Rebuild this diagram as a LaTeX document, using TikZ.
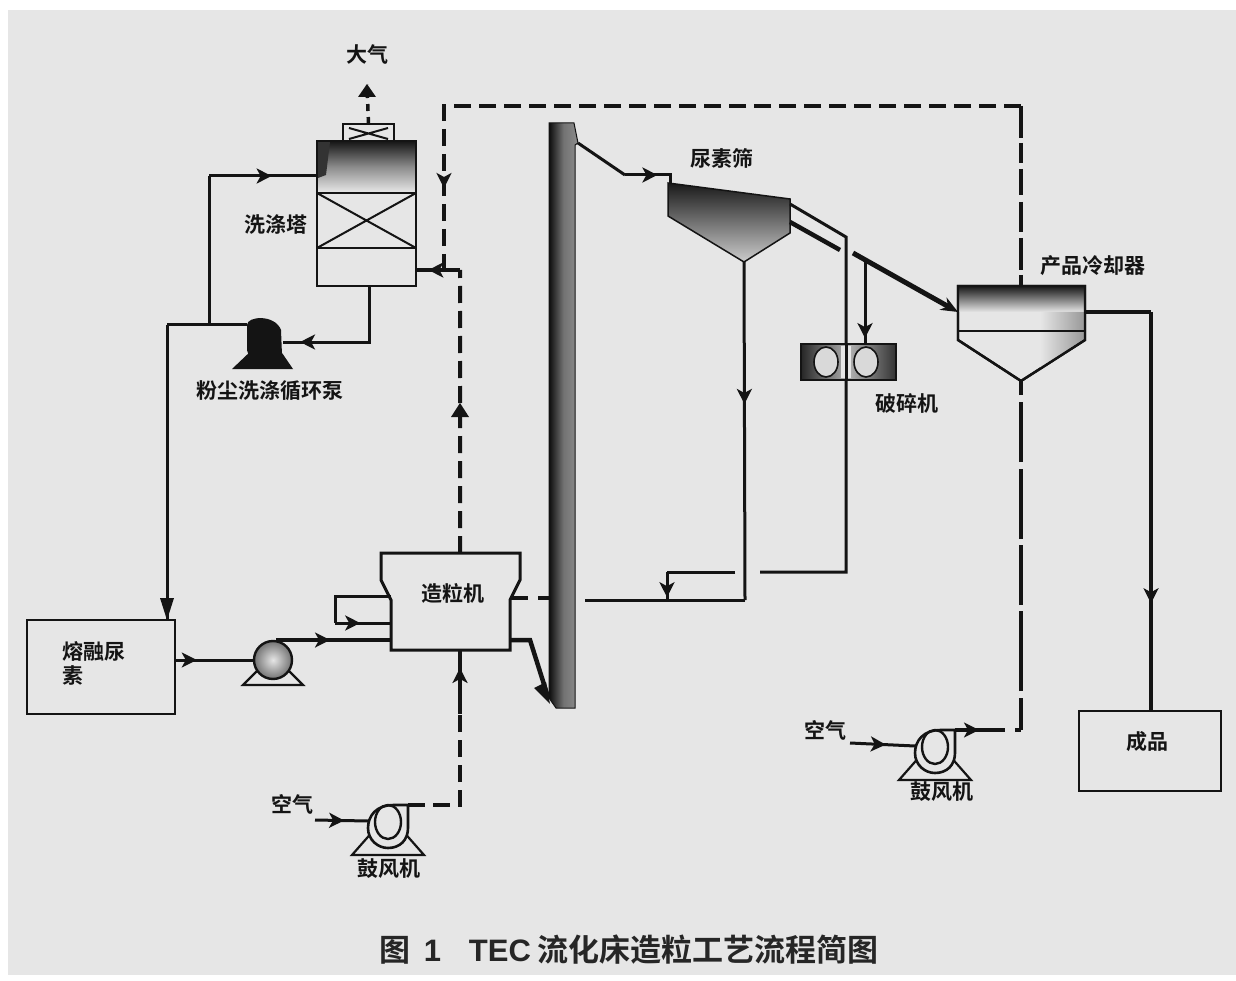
\documentclass[tikz,border=0pt]{standalone}
\usepackage{fontspec}
\setmainfont{Liberation Sans}
\newfontfamily\cjk{Noto Sans CJK SC}[BoldFont={Noto Sans CJK SC Bold}]
\usetikzlibrary{arrows.meta,decorations.markings,calc,shapes.geometric}
\definecolor{bgpaper}{HTML}{E6E6E6}
\definecolor{ink}{HTML}{141414}
\tikzset{
  pipe/.style={draw=ink,line width=3pt,line join=miter},
  thick pipe/.style={draw=ink,line width=4.5pt,line join=miter},
  gas/.style={draw=ink,line width=4pt,dash pattern=on 17pt off 8pt},
  midarrow/.style={postaction={decorate},decoration={markings,mark=at position #1 with {\arrow{Stealth[length=15pt,width=15pt,inset=4pt]}}}},
  vessel/.style={draw=ink,line width=2.6pt,fill=bgpaper,inner sep=0pt,outer sep=0pt,rectangle},
  lab/.style={font=\cjk\bfseries\fontsize{21}{24}\selectfont,text=ink,inner sep=0pt},
  blower/.pic={
    \fill[bgpaper,draw=ink,line width=2.2pt] (-36,33) -- (-14,8) -- (14,8) -- (36,33) -- cycle;
    \path[fill=bgpaper,draw=ink,line width=2.6pt] (20,-17) -- (6,-17) .. controls (-12,-17) and (-20,-6) .. (-20,6) .. controls (-20,18) and (-10,26) .. (0,26) .. controls (12,26) and (20,18) .. (20,6) -- cycle;
    \draw[ink,line width=2.4pt] (0,0) ellipse (13pt and 17pt);
    \coordinate (-in) at (-20,-1);
    \coordinate (-out) at (20,-17);
  },
}
\begin{document}
\begin{tikzpicture}[x=1pt,y=-1pt]
\useasboundingbox (0,0) rectangle (1236,981);
\fill[white] (0,0) rectangle (1236,981);
\fill[bgpaper] (8,10) rectangle (1236,975);

% ---- named junctions
\coordinate (airtop) at (367,85);
\coordinate (tk1) at (444,106);
\coordinate (tk2) at (1021,106);
\coordinate (jn) at (444,270);
\coordinate (gbend) at (460,270);
\coordinate (upA) at (209,325);
\coordinate (upB) at (209,176);
\coordinate (bendL) at (167,325);
\coordinate (meltin) at (167,620);
\coordinate (towerin) at (416,270);
\coordinate (pumpbot) at (369,342);

% ---- scrubber tower
\node[vessel,minimum width=51pt,minimum height=17pt,anchor=north west] (cap) at (343,124) {};
\draw[ink,line width=2pt] (349,128) -- (388,139) (349,139) -- (388,128);
\node[vessel,minimum width=99pt,minimum height=145pt,anchor=north west] (tower) at (317,141) {};
\shade[top color=black!90,bottom color=bgpaper,middle color=black!45] (318,142) rectangle (415,192);
\fill[black!80] (318,142) -- (330,142) -- (326,175) -- (318,178) -- cycle;
\draw[ink,line width=2.8pt] (317,193) -- (416,193) (317,248) -- (416,248);
\draw[ink,line width=2pt] (317,193) -- (416,248) (416,193) -- (317,248);
\draw[vessel,fill=none] (317,141) rectangle (416,286);
\node[lab] (lbltower) at (276,225) {洗涤塔};
\node[lab] (lblair) at (367,54) {大气};
\draw[gas,dash pattern=on 7pt off 6pt,line width=3.5pt] (cap.north) -- (airtop);
\fill[ink] (367,84) -- (358,97) -- (376,97) -- cycle;

% ---- black pump
\coordinate (pk) at (265,343);
\fill[ink] (232,369) -- (252,350) -- (280,350) -- (293,369) -- cycle;
\fill[ink] (247,325) .. controls (247,316) and (275,314) .. (281,330) -- (282,355) .. controls (270,366) and (248,362) .. (247,350) -- cycle;
\coordinate (pumpout) at (247,325);
\coordinate (pumpin) at (283,342);
\node[lab] (lblpump) at (270,391) {粉尘洗涤循环泵};
\draw[pipe,midarrow=.88] (tower.south -| pumpbot) -- (pumpbot) -- (pumpin);
\draw[pipe] (pumpout) -- (bendL);
\draw[pipe] (upA) -- (upB);
\draw[pipe,midarrow=.58] (upB) -- (tower.west |- upB);

% ---- melt tank
\node[vessel,minimum width=148pt,minimum height=94pt,anchor=north west] (melt) at (27,620) {};
\node[lab,align=left,anchor=north west] (lblmelt) at (62,641) {熔融尿\\素};
\draw[pipe] (bendL) -- (meltin);
\fill[ink] (167,620) -- (160,598) -- (174,598) -- cycle;

% ---- melt pump
\coordinate (mp) at (273,660);
\fill[bgpaper] (243,685) -- (258,670) -- (288,670) -- (303,685) -- cycle;
\draw[ink,line width=2.2pt] (243,685) -- (258,670) -- (288,670) -- (303,685) -- cycle;
\node[circle,draw=ink,line width=2.4pt,minimum size=38pt,inner sep=0pt,inner color=black!10,outer color=black!55] (mpump) at (mp) {};
\draw[pipe,midarrow=.28] (melt.east |- mp) -- (mpump.west);

% ---- granulator
\path[fill=bgpaper,draw=ink,line width=3pt] (381,553) coordinate (g1) -- (520,553) coordinate (g2) -- (520,580) -- (510,600) -- (510,650) coordinate (g4) -- (391,650) coordinate (g3) -- (391,600) -- (381,580) -- cycle;
\coordinate (gtop) at ($(g1)!0.57!(g2)$);
\coordinate (gbot) at (460,650);
\node[lab] (lblgran) at (453,593) {造粒机};
\coordinate (loopa) at (335,596);
\coordinate (loopb) at (335,623);
\draw[pipe] (391,596) -- (loopa) -- (loopb);
\draw[pipe,midarrow=.45] (loopb) -- (391,623);
\coordinate (mpo) at (276,640);
\draw[thick pipe,midarrow=.47] (mpo) -- (391,640);

% ---- gas loop through the scrubber
\draw[gas] (tk2) -- (tk1) -- (jn);
\draw[gas,dash pattern=on 17pt off 0pt,draw=none,midarrow=.5] (tk1) -- (jn);
\draw[pipe,line width=3.5pt] (gbend) -- (jn) -- (444,255);
\draw[pipe,midarrow=.72,line width=3.5pt] (gbend) -- (towerin);
\draw[gas] (gtop) -- (gbend);
\fill[ink] (460,403) -- (451,417) -- (469,417) -- cycle;
\draw[gas,dash pattern=on 32pt off 5pt on 20pt off 6pt on 26pt off 7pt on 30pt off 6pt] (1021,106) -- (1021,286);

% ---- lower blower
\pic (bl) at (388,822) {blower};
\coordinate (blc) at (460,805);
\draw[gas] (bl-out) -- (blc) -- (460,714);
\draw[pipe,line width=3.5pt,midarrow=.72] (460,714) -- (gbot);
\coordinate (airL) at (315,820);
\draw[pipe,midarrow=.55] (airL) -- (bl-in);
\node[lab] (lblairL) at (292,804) {空气};
\node[lab] (lblblL) at (389,869) {鼓风机};

% ---- bucket elevator
\path[left color=black!95,right color=black!45,middle color=black!55,draw=ink,line width=1pt] (549,123) -- (574,123) -- (578,143) -- (575,145) -- (575,708) -- (556,708) -- (549,698) -- cycle;
\coordinate (ebot) at (548,697);
\coordinate (etop) at (578,143);
\node[inner sep=0pt,minimum width=26pt,minimum height=585pt,anchor=north west] (elev) at (549,123) {};
\draw[thick pipe] (510,640) -- (530,640) -- (ebot);
\fill[ink] (550,704) -- (534,688) -- (546,682) -- cycle;
\draw[gas,dash pattern=on 18pt off 10pt on 20pt off 8pt] (510,598) -- (549,598);

% ---- urea screen
\coordinate (sc1) at (625,175);
\coordinate (sc2) at (670,175);
\draw[pipe] (etop) -- (sc1);
\draw[pipe,midarrow=.6] (sc1) -- (sc2) -- (670,184);
\path[top color=black!90,bottom color=black!20,draw=ink,line width=1.5pt] (668,183) -- (790,199) -- (790,233) -- (744,262) coordinate (scapex) -- (668,216) -- cycle;
\node[lab] (lblscreen) at (722,158) {尿素筛};
\coordinate (ob) at (846,237);
\coordinate (rb) at (846,572);
\draw[pipe] (790,204) -- (ob) -- (rb) -- (760,572);
\draw[thick pipe] (790,222) -- (840,250);
\coordinate (rc) at (667,572);
\draw[pipe] (735,572) -- (rc);
\draw[pipe,midarrow=.9] (rc) -- (667,600);
\coordinate (ra) at (745,600);
\draw[pipe,midarrow=.42] (scapex) -- (ra);
\draw[pipe] (ra) -- (585,600);

% ---- crusher
\node[vessel,minimum width=95pt,minimum height=36pt,anchor=north west,left color=black!85,right color=black!80,middle color=black!30] (crusher) at (801,344) {};
\node[ellipse,draw=ink,line width=1.6pt,fill=black!15,minimum width=24pt,minimum height=30pt,inner sep=0pt] (roll1) at (826,362) {};
\node[ellipse,draw=ink,line width=1.6pt,fill=black!15,minimum width=24pt,minimum height=30pt,inner sep=0pt] (roll2) at (866,362) {};
\fill[bgpaper] (841,346) rectangle (851,378);
\draw[pipe] (846,380) -- (846,345);
\node[lab] (lblcrusher) at (907,403) {破碎机};

% ---- product cooler
\coordinate (cap1) at (958,286);
\path[fill=bgpaper,draw=ink,line width=2.4pt] (958,286) -- (1085,286) -- (1085,340) -- (1021,381) coordinate (capex) -- (958,340) -- cycle;
\shade[top color=black!88,bottom color=bgpaper] (959,287) rectangle (1084,312);
\shade[left color=bgpaper,right color=black!40] (1040,312) -- (1084,312) -- (1084,339) -- (1040,368) -- cycle;
\draw[ink,line width=1.6pt] (958,331) -- (1085,331);
\draw[vessel,fill=none,line width=2.4pt] (958,286) -- (1085,286) -- (1085,340) -- (1021,381) -- (958,340) -- cycle;
\node[lab] (lblcooler) at (1093,266) {产品冷却器};
\coordinate (cin) at (958,312);
\coordinate (cs) at (853,253);
\draw[thick pipe,line width=5pt,-{Stealth[length=17pt,width=14pt]}] (cs) -- (cin);
\coordinate (cb) at (865,260);
\draw[pipe,midarrow=.93] (cb) -- (crusher.north -| cb);
\coordinate (co) at (1151,312);
\draw[thick pipe] (1085,312) -- (co);

% ---- finished product
\node[vessel,minimum width=142pt,minimum height=80pt,anchor=north west] (prod) at (1079,711) {};
\node[lab] (lblprod) at (1147,742) {成品};
\draw[thick pipe,midarrow=.73] (co) -- (prod.north -| co);

% ---- right blower
\pic (br) at (935,747) {blower};
\coordinate (brc) at (1021,730);
\draw[pipe,midarrow=.6,line width=3.5pt] (br-out) -- (995,730);
\draw[gas,dash pattern=on 10pt off 10pt on 24pt off 6pt] (995,730) -- (brc);
\draw[gas,dash pattern=on 32pt off 7pt on 80pt off 6pt on 60pt off 6pt on 70pt off 7pt on 60pt off 7pt] (brc) -- (capex);
\coordinate (airR) at (850,743);
\draw[pipe,midarrow=.55] (airR) -- (br-in);
\node[lab] (lblairR) at (825,730) {空气};
\node[lab] (lblblR) at (942,792) {鼓风机};

% ---- caption
\node[inner sep=0pt,text=black!85,font=\fontsize{31}{34}\selectfont] (caption) at (629,950) {\cjk\textbf{图}\hspace{0pt}\ \ \textbf{\rmfamily 1}\ \ \ \ \textbf{\rmfamily TEC} \textbf{流化床造粒工艺流程简图}};
\end{tikzpicture}
\end{document}
